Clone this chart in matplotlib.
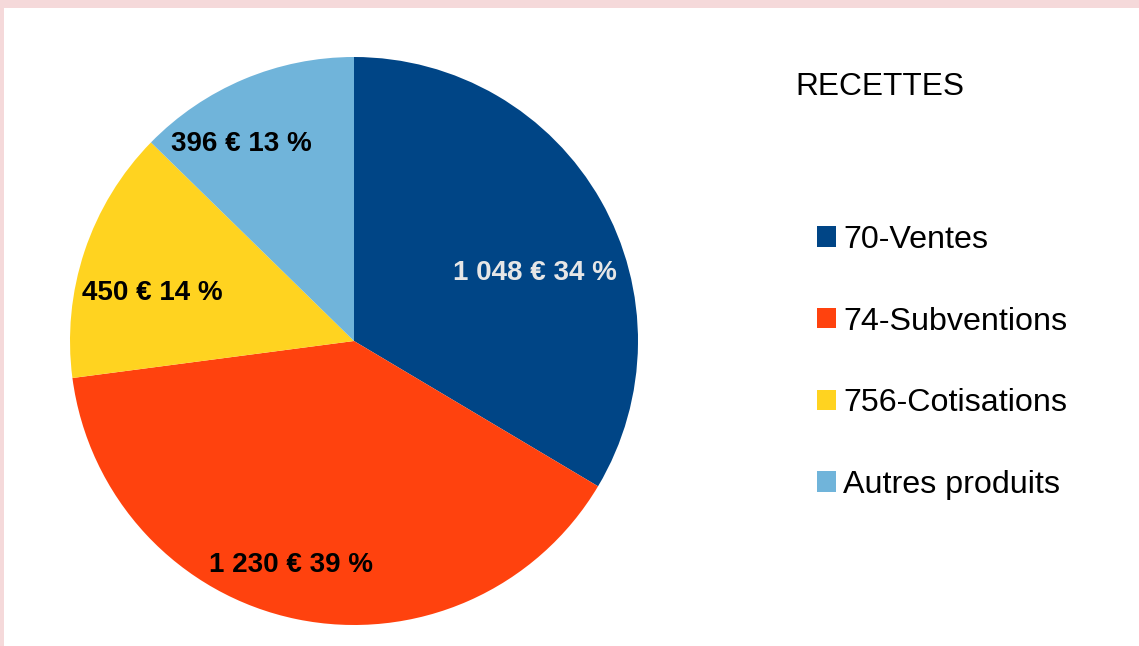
import matplotlib.pyplot as plt
from matplotlib.patches import Rectangle
import numpy as np

plt.rcParams['font.family'] = ['Liberation Sans', 'DejaVu Sans']

categories = ["70-Ventes", "74-Subventions", "756-Cotisations", "Autres produits"]
values = [1048, 1230, 450, 396]
colors = ["#004586", "#FF420E", "#FFD320", "#70B4DA"]
label_colors = ["#E6E6E6", "black", "black", "black"]
legend_title = "RECETTES"

fig = plt.figure(figsize=(11.39, 6.46), dpi=100)
fig.patch.set_facecolor("#F5D9DA")
# white panel inside the pink frame
fig.add_artist(Rectangle((4 / 1139, 0), 1, 1 - 8 / 646, transform=fig.transFigure,
                         facecolor="white", edgecolor="none", zorder=0))

ax = fig.add_axes([70 / 1139, 21 / 646, 568 / 1139, 568 / 646])
ax.set_facecolor("none")
wedges, _ = ax.pie(values, colors=colors, startangle=90, counterclock=False,
                   radius=1, wedgeprops=dict(linewidth=0))
ax.set_xlim(-1, 1)
ax.set_ylim(-1, 1)
ax.set_aspect("equal")
ax.axis("off")

total = sum(values)
label_dist = [0.68, 0.82, 0.73, 0.80]
angle_shift = [-9, -4, 5, 7]
for w, v, c, d, s in zip(wedges, values, label_colors, label_dist, angle_shift):
    mid = np.deg2rad((w.theta1 + w.theta2) / 2 + s)
    pct = round(100 * v / total)
    txt = f"{v:,}".replace(",", " ") + f" € {pct} %"
    ax.text(d * np.cos(mid), d * np.sin(mid), txt, ha="center", va="center",
            fontsize=20, fontweight="bold", color=c)

fig.text(795 / 1139, 1 - 87 / 646, legend_title, fontsize=22.8, va="center", ha="left")
fig.legend(wedges, categories, loc="upper left", bbox_to_anchor=(817 / 1139, 1 - 225 / 646),
           frameon=False, fontsize=23.2, handlelength=0.6, handleheight=0.6,
           handletextpad=0.22, labelspacing=1.6, borderpad=0, borderaxespad=0)

fig.savefig("out.png", dpi=100)
